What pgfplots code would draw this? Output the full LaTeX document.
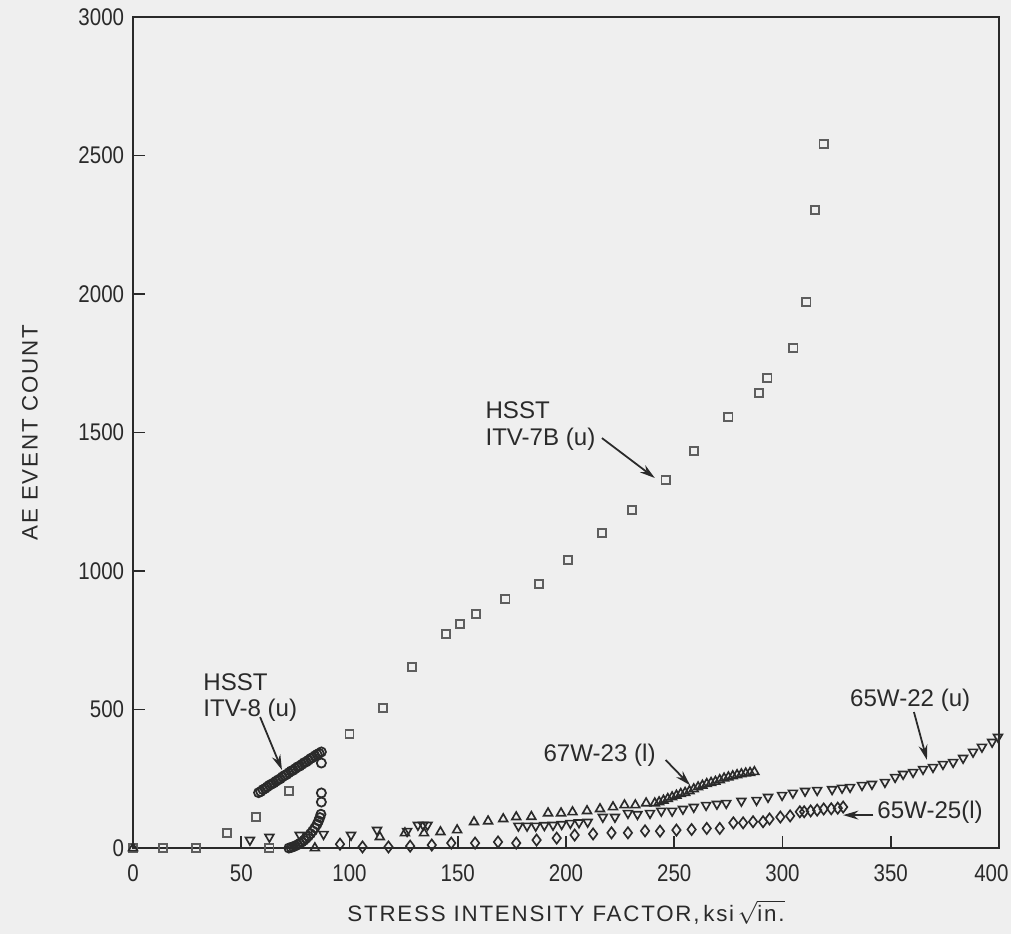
\documentclass[border=0pt]{standalone}
\usepackage{pgfplots}
\pgfplotsset{compat=1.18}
\usepackage{amsmath}
\usepackage{fontspec}
\setmainfont{Liberation Sans}
\newfontfamily\labelfont[LetterSpace=8]{Liberation Sans}
\newfontfamily\narrowsans[FakeStretch=0.85]{Liberation Sans}
\usetikzlibrary{arrows.meta,backgrounds}
\definecolor{paper}{HTML}{EFEFEF}
\definecolor{ink}{HTML}{2A2A2A}
\definecolor{sq}{HTML}{5E5E5E}

\begin{document}
\begin{tikzpicture}
\begin{axis}[
    scale only axis,
    width=12cm, height=11.515cm,
    xmin=0, xmax=400, ymin=0, ymax=3000,
    xtick={0,50,...,400}, ytick={0,500,...,3000},
    xticklabels={0,50,100,150,200,250,300,350,{\kern-3pt 400\kern3pt}},
    tick align=inside, tick pos=left,
    major tick length=0.17cm,
    axis line style={ink, line width=0.8pt},
    tick style={ink, line width=0.7pt},
    ticklabel style={font=\narrowsans\fontsize{9.5}{11}\selectfont, text=ink},
    xticklabel style={yshift=-0.1cm},
    /pgf/number format/assume math mode=true,
    /pgf/number format/1000 sep={},
    xlabel={STRESS INTENSITY FACTOR,\,ksi\,$\sqrt{\text{in.}}$},
    ylabel={AE EVENT COUNT},
    label style={font=\labelfont\fontsize{8.8}{10}\selectfont, text=ink},
    xlabel style={at={(rel axis cs:0.5,-0.0773)}, anchor=center},
    ylabel style={at={(rel axis cs:-0.119,0.5)}, anchor=center},
    every node/.append style={text=ink},
]

% HSST ITV-7B (u)
\addplot[only marks, mark=square, mark size=1.6pt, draw=sq, mark options={line width=0.7pt}] coordinates {
(0,0) (14,0) (29,0) (43.4,54) (56.8,112) (63,0) (72,206) (100,412) (115.5,505)
(129,653) (144.6,772) (151,809) (158.4,845) (172,899) (187.5,953) (201,1040)
(216.6,1137) (230.5,1220) (246,1329) (259,1433) (275,1556) (289,1643) (293,1697)
(305,1805) (311,1971) (315,2303) (319,2541)
};

% HSST ITV-8 (u)
\addplot[only marks, mark=o, mark size=1.8pt, draw=ink, mark options={line width=0.7pt}] coordinates {
(58,200) (59,204) (60,211) (61,215) (62,221) (63,227) (64,231) (65,235) (66,241)
(67,246) (68,250) (69,257) (70,262) (71,266) (72,272) (73,278) (74,281) (75,287)
(76,293) (77,296) (78,302) (79,308) (80,311) (81,317) (82,323) (83,327) (84,333)
(85,338) (86,342) (87,347)
(87,307) (87,199) (87,166)
(72,0) (73,2) (74,5) (75,8) (76,12) (77,17) (78,22) (79,28) (80,35) (81,43)
(82,52) (83,62) (84,73) (85,86) (85.7,98) (86.3,110) (86.8,122)
};

% 67W-23 (l)
\addplot[only marks, mark=triangle, mark size=2pt, draw=ink, mark options={line width=0.65pt}] coordinates {
(0,0) (84,0) (114,40) (125.6,54) (134.4,54) (142,58) (149.7,65) (157.5,94) (164,97)
(171,105) (177,112) (184,113) (191.7,126) (197.7,126) (203,130) (209.7,134)
(215.7,141) (221.7,148) (227,155) (232,155) (237,162) (241,162)
(243,166) (245,172) (247,178) (249,184) (251,190) (253,196) (255,200) (257,206)
(259,213) (261,220) (263,226) (265,232) (267,236) (269,240) (271,246) (273,252)
(275,256) (277,260) (279,264) (281,267) (283,270) (285,272) (287,275)
};

% 65W-22 (u)
\addplot[only marks, mark=triangle, mark size=2pt, draw=ink, mark options={line width=0.65pt, rotate=180}] coordinates {
(54,29) (63,40) (77,47) (88,50) (100.7,47) (112.7,65) (126.6,61) (131.6,83)
(134,83) (136,83) (178,80) (182,80) (186,80) (190,82) (194,83) (198,86) (202,90)
(206,92) (210,94) (217,112) (222.6,112) (228.6,126) (233,122) (238.8,126)
(244,134) (249,134) (254,141) (259,148) (264.7,155) (269.7,159) (274,162)
(281,170) (288,173) (293.3,184) (299.8,191) (304.8,199) (310.4,206) (316,209)
(322.9,212) (327.5,217) (331.2,220) (336.7,227) (341.3,231) (347.3,238)
(352,256) (355.7,267) (360.3,274) (364.9,285) (369.5,292) (374.1,303)
(378.8,310) (383.4,325) (388,347) (392.1,365) (396.8,383) (399.5,401)
};

% 65W-25 (l)
\addplot[only marks, mark=diamond, mark size=2.2pt, draw=ink, mark options={line width=0.65pt}] coordinates {
(95.6,14) (106,4) (118,4) (128,7) (138,11) (147,18) (158,18) (168.6,22) (177,18)
(186.4,29) (195.7,36) (204,47) (212.5,51) (221,55) (228.6,55) (236.5,62)
(243.4,61) (251,65) (258,67) (265,71) (271,71) (277.3,91) (281.8,91) (286.4,95)
(291,95) (294,105) (299,112) (303.5,116) (308,131) (310,131) (313,134) (316,137)
(319,141) (322.5,142) (325.5,144) (328,148)
};

\tikzset{note/.style={font=\fontsize{9.5}{10.5}\selectfont, text=ink, inner sep=0pt, align=left},
         pointer/.style={ink, line width=0.7pt, -{Stealth[length=6pt, width=3.5pt]}}}

\node[note, anchor=north west] at (axis cs:162.6,1612) {HSST\\ITV-7B (u)};
\draw[pointer] (axis cs:216.6,1480) -- (axis cs:241,1336);

\node[note, anchor=north west] at (axis cs:32.3,632) {HSST\\ITV-8 (u)};
\draw[pointer] (axis cs:58.7,473) -- (axis cs:68.8,282);

\node[note, anchor=west] at (axis cs:189.4,336) {67W-23 (l)};
\draw[pointer] (axis cs:246,318) -- (axis cs:257.3,227);

\node[note, anchor=west] at (axis cs:331,534) {65W-22 (u)};
\draw[pointer] (axis cs:360.7,491) -- (axis cs:366.7,318);

\node[note, anchor=west] at (axis cs:343.6,130) {65W-25(l)};
\draw[pointer] (axis cs:342,119) -- (axis cs:328,119);

\end{axis}
\pgfresetboundingbox
\useasboundingbox ([xshift=-1.843cm,yshift=-1.192cm]current axis.south west) rectangle ([xshift=0.166cm,yshift=0.236cm]current axis.north east);
\begin{scope}[on background layer]
\fill[paper] ([xshift=-1.843cm,yshift=-1.192cm]current axis.south west) rectangle ([xshift=0.166cm,yshift=0.236cm]current axis.north east);
\end{scope}
\end{tikzpicture}
\end{document}
